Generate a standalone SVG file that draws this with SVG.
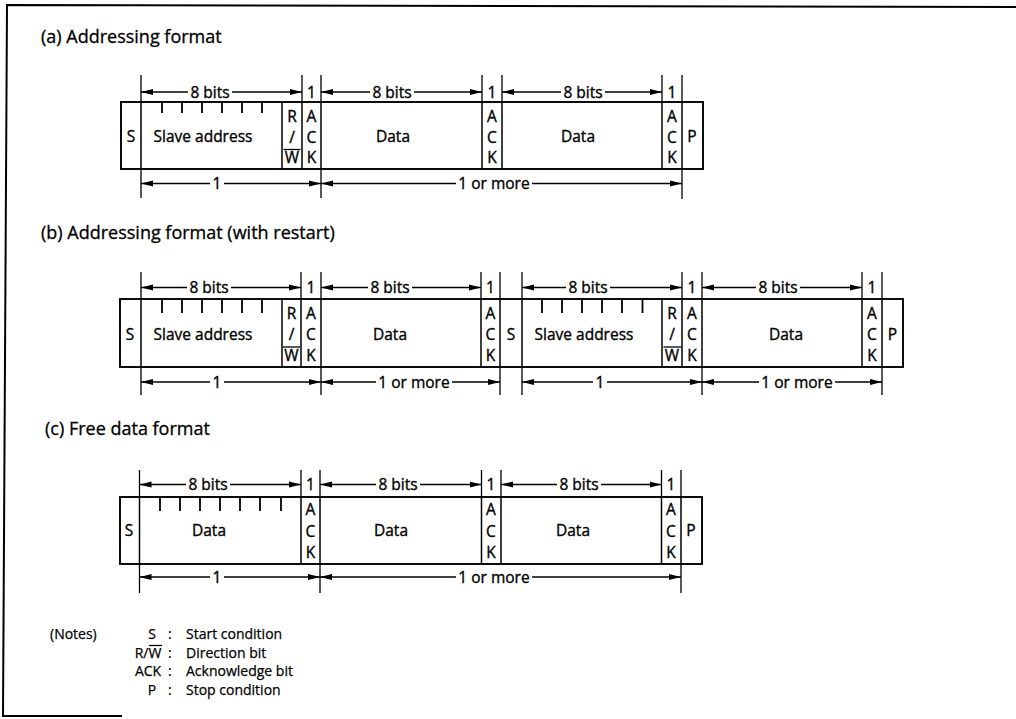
<svg xmlns="http://www.w3.org/2000/svg" width="1016" height="719" viewBox="0 0 1016 719">
<style>
.frame{fill:none;stroke:#000;stroke-width:2}
.box{fill:none;stroke:#000;stroke-width:1.9}
.dv{stroke:#000;stroke-width:1.5}
.ext{stroke:#000;stroke-width:1.3}
.tk{stroke:#000;stroke-width:1.8}
.ar{stroke:#000;stroke-width:1.3;fill:none}
.ol{stroke:#000;stroke-width:1.3}
text{font-family:"Open Sans","Noto Sans",sans-serif;fill:#000;font-weight:400;stroke:#000;stroke-width:0.35}
.l{font-size:15.5px;text-anchor:middle}
.hd{font-size:18px;stroke-width:0.3}
.nt{font-size:14px;stroke-width:0.25}
.nc{font-size:14px;text-anchor:middle;stroke-width:0.25}
</style>
<defs>
<marker id="ah" viewBox="0 0 12 7" refX="12" refY="3.5" markerWidth="12" markerHeight="7" markerUnits="userSpaceOnUse" orient="auto-start-reverse"><path d="M0,0.5 L12,3.5 L0,6.5 z" fill="#000"/></marker>
</defs>
<rect width="1016" height="719" fill="#fff"/>
<polyline class="frame" points="1016,7 7,5 3,716 122,716"/>

<text class="hd" x="41" y="43">(a) Addressing format</text>
<text class="hd" x="41" y="239">(b) Addressing format (with restart)</text>
<text class="hd" x="45" y="435">(c) Free data format</text>

<!-- (a) -->
<g id="format-a">
<rect class="box" x="121" y="102" width="582" height="67"/>
<path class="dv" d="M141,102V169M282,102V169M302,102V169M321,102V169M482,102V169M502,102V169M662,102V169M682,102V169"/>
<path class="ext" d="M141,75V102M302,75V102M321,75V102M482,75V102M502,75V102M662,75V102M682,75V102M141,169V198M321,169V198M682,169V199"/>
<path class="tk" d="M162,102V113M182,102V113M202,102V113M222,102V113M242,102V113M262,102V113"/>
<line class="ol" x1="283.5" y1="149.5" x2="300.5" y2="149.5"/>
<text class="l" x="131" y="141.5">S</text>
<text class="l" x="203" y="141.5">Slave address</text>
<text class="l" x="292" y="122">R</text><text class="l" x="292" y="142.5">/</text><text class="l" x="292" y="163">W</text>
<text class="l" x="311.5" y="122">A</text><text class="l" x="311.5" y="142.5">C</text><text class="l" x="311.5" y="163">K</text>
<text class="l" x="393" y="141.5">Data</text>
<text class="l" x="492" y="122">A</text><text class="l" x="492" y="142.5">C</text><text class="l" x="492" y="163">K</text>
<text class="l" x="578" y="141.5">Data</text>
<text class="l" x="672" y="122">A</text><text class="l" x="672" y="142.5">C</text><text class="l" x="672" y="163">K</text>
<text class="l" x="692" y="141.5">P</text>
<text class="l" x="210" y="97.7">8 bits</text>
<text class="l" x="311.5" y="97.7">1</text>
<text class="l" x="392" y="97.7">8 bits</text>
<text class="l" x="492" y="97.7">1</text>
<text class="l" x="583" y="97.7">8 bits</text>
<text class="l" x="672" y="97.7">1</text>
<text class="l" x="217" y="189">1</text>
<text class="l" x="494" y="189">1 or more</text>
</g>

<!-- (b) -->
<g id="format-b">
<rect class="box" x="120" y="299" width="783" height="68"/>
<path class="dv" d="M141,299V367M282,299V367M301,299V367M321,299V367M481,299V367M500,299V367M522,299V367M662,299V367M682,299V367M702,299V367M862,299V367M882,299V367"/>
<path class="ext" d="M141,272V299M301,272V299M321,272V299M481,272V299M500,272V299M522,272V299M682,272V299M702,272V299M862,272V299M882,272V299M141,367V395M321,367V395M500,367V395M522,367V395M702,367V395M882,367V395"/>
<path class="tk" d="M162,299V313M182,299V313M202,299V313M222,299V313M242,299V313M262,299V313M542,299V313M562,299V313M582,299V313M602,299V313M622,299V313M642.5,299V313"/>
<line class="ol" x1="283" y1="347" x2="300" y2="347"/>
<line class="ol" x1="663.5" y1="347" x2="681" y2="347"/>
<text class="l" x="130" y="339.7">S</text>
<text class="l" x="203" y="339.7">Slave address</text>
<text class="l" x="291.5" y="318.5">R</text><text class="l" x="291.5" y="339.5">/</text><text class="l" x="291.5" y="361">W</text>
<text class="l" x="311" y="318.5">A</text><text class="l" x="311" y="339.5">C</text><text class="l" x="311" y="361">K</text>
<text class="l" x="390" y="339.7">Data</text>
<text class="l" x="490.5" y="318.5">A</text><text class="l" x="490.5" y="339.5">C</text><text class="l" x="490.5" y="361">K</text>
<text class="l" x="511" y="339.7">S</text>
<text class="l" x="584" y="339.7">Slave address</text>
<text class="l" x="672" y="318.5">R</text><text class="l" x="672" y="339.5">/</text><text class="l" x="672" y="361">W</text>
<text class="l" x="692" y="318.5">A</text><text class="l" x="692" y="339.5">C</text><text class="l" x="692" y="361">K</text>
<text class="l" x="786" y="339.7">Data</text>
<text class="l" x="872" y="318.5">A</text><text class="l" x="872" y="339.5">C</text><text class="l" x="872" y="361">K</text>
<text class="l" x="892.5" y="339.7">P</text>
<text class="l" x="209" y="293">8 bits</text>
<text class="l" x="311" y="293">1</text>
<text class="l" x="390" y="293">8 bits</text>
<text class="l" x="490.5" y="293">1</text>
<text class="l" x="588" y="293">8 bits</text>
<text class="l" x="692" y="293">1</text>
<text class="l" x="778" y="293">8 bits</text>
<text class="l" x="872" y="293">1</text>
<text class="l" x="217" y="387.7">1</text>
<text class="l" x="414" y="387.7">1 or more</text>
<text class="l" x="600" y="387.7">1</text>
<text class="l" x="797" y="387.7">1 or more</text>
</g>

<!-- (c) -->
<g id="format-c">
<rect class="box" x="120" y="497" width="582" height="67"/>
<path class="dv" d="M139.5,497V564M301,497V564M320,497V564M481.5,497V564M501,497V564M661.5,497V564M681,497V564"/>
<path class="ext" d="M139.5,470V497M301,470V497M320,470V497M481.5,470V497M501,470V497M661.5,470V497M681,470V497M139.5,564V593M320,564V593M681,564V593"/>
<path class="tk" d="M160,497V511M180,497V511M200,497V511M220,497V511M240,497V511M260,497V511M281,497V511"/>
<text class="l" x="129" y="536.4">S</text>
<text class="l" x="209" y="536.4">Data</text>
<text class="l" x="310.5" y="515">A</text><text class="l" x="310.5" y="536.7">C</text><text class="l" x="310.5" y="558">K</text>
<text class="l" x="391" y="536.4">Data</text>
<text class="l" x="491" y="515">A</text><text class="l" x="491" y="536.7">C</text><text class="l" x="491" y="558">K</text>
<text class="l" x="573" y="536.4">Data</text>
<text class="l" x="671" y="515">A</text><text class="l" x="671" y="536.7">C</text><text class="l" x="671" y="558">K</text>
<text class="l" x="691" y="536.4">P</text>
<text class="l" x="208" y="490">8 bits</text>
<text class="l" x="310.5" y="490">1</text>
<text class="l" x="398" y="490">8 bits</text>
<text class="l" x="491" y="490">1</text>
<text class="l" x="579" y="490">8 bits</text>
<text class="l" x="671" y="490">1</text>
<text class="l" x="217" y="582.7">1</text>
<text class="l" x="494" y="582.7">1 or more</text>
</g>

<g id="connectors">
<path class="ar" marker-start="url(#ah)" d="M141,92H188"/><path class="ar" marker-end="url(#ah)" d="M232,92H302"/>
<path class="ar" marker-start="url(#ah)" d="M321,92H370"/><path class="ar" marker-end="url(#ah)" d="M414,92H482"/>
<path class="ar" marker-start="url(#ah)" d="M502,92H561"/><path class="ar" marker-end="url(#ah)" d="M605,92H662"/>
<path class="ar" marker-start="url(#ah)" d="M141,183.5H210"/><path class="ar" marker-end="url(#ah)" d="M224,183.5H321"/>
<path class="ar" marker-start="url(#ah)" d="M321,183.5H456"/><path class="ar" marker-end="url(#ah)" d="M532,183.5H682"/>
<path class="ar" marker-start="url(#ah)" d="M141,287.5H187"/><path class="ar" marker-end="url(#ah)" d="M231,287.5H301"/>
<path class="ar" marker-start="url(#ah)" d="M321,287.5H368"/><path class="ar" marker-end="url(#ah)" d="M412,287.5H481"/>
<path class="ar" marker-start="url(#ah)" d="M522,287.5H566"/><path class="ar" marker-end="url(#ah)" d="M610,287.5H682"/>
<path class="ar" marker-start="url(#ah)" d="M702,287.5H756"/><path class="ar" marker-end="url(#ah)" d="M800,287.5H862"/>
<path class="ar" marker-start="url(#ah)" d="M141,382H210"/><path class="ar" marker-end="url(#ah)" d="M224,382H321"/>
<path class="ar" marker-start="url(#ah)" d="M321,382H376"/><path class="ar" marker-end="url(#ah)" d="M452,382H500"/>
<path class="ar" marker-start="url(#ah)" d="M522,382H593"/><path class="ar" marker-end="url(#ah)" d="M607,382H702"/>
<path class="ar" marker-start="url(#ah)" d="M702,382H759"/><path class="ar" marker-end="url(#ah)" d="M835,382H882"/>
<path class="ar" marker-start="url(#ah)" d="M139.5,484.5H186"/><path class="ar" marker-end="url(#ah)" d="M230,484.5H301"/>
<path class="ar" marker-start="url(#ah)" d="M320,484.5H376"/><path class="ar" marker-end="url(#ah)" d="M420,484.5H481.5"/>
<path class="ar" marker-start="url(#ah)" d="M501,484.5H557"/><path class="ar" marker-end="url(#ah)" d="M601,484.5H661.5"/>
<path class="ar" marker-start="url(#ah)" d="M139.5,577H210"/><path class="ar" marker-end="url(#ah)" d="M224,577H320"/>
<path class="ar" marker-start="url(#ah)" d="M320,577H456"/><path class="ar" marker-end="url(#ah)" d="M532,577H681"/>
</g>

<g id="notes">
<text class="nt" x="50" y="639">(Notes)</text>
<text class="nc" x="152" y="639">S</text>
<text class="nc" x="148" y="657.5">R/W</text>
<line class="ol" x1="149" y1="645.5" x2="162" y2="645.5"/>
<text class="nc" x="148" y="676">ACK</text>
<text class="nc" x="152" y="694.5">P</text>
<text class="nt" x="168" y="639">:</text>
<text class="nt" x="168" y="657.5">:</text>
<text class="nt" x="168" y="676">:</text>
<text class="nt" x="168" y="694.5">:</text>
<text class="nt" x="186" y="639">Start condition</text>
<text class="nt" x="186" y="657.5">Direction bit</text>
<text class="nt" x="186" y="676">Acknowledge bit</text>
<text class="nt" x="186" y="694.5">Stop condition</text>
</g>
</svg>
